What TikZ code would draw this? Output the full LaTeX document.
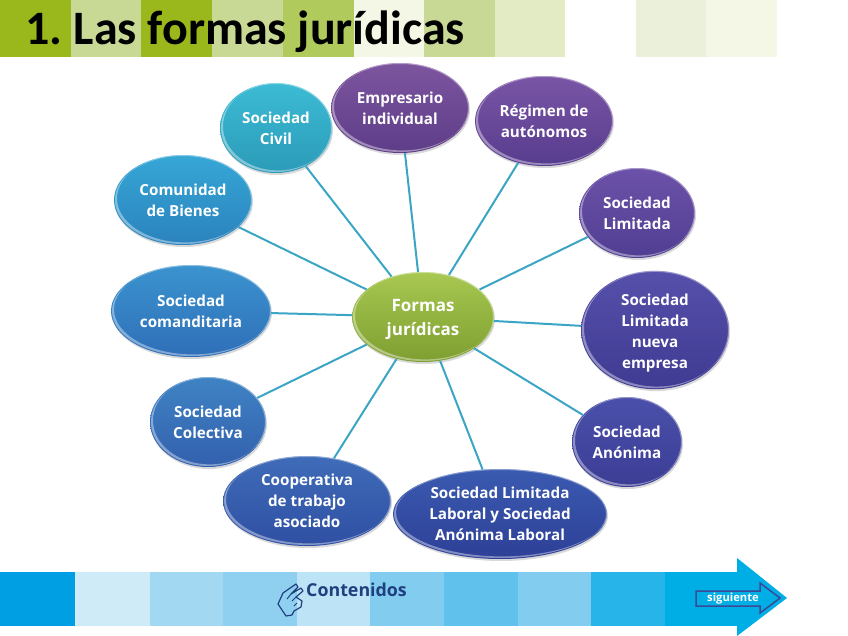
\documentclass[tikz,border=0pt]{standalone}
\usepackage{fontspec}
\setmainfont{Open Sans}
\newfontfamily\titlefont{Carlito}
\usetikzlibrary{shapes.geometric, shadows, calc}
\definecolor{linkcol}{RGB}{58,165,197}
\definecolor{headA}{RGB}{154,183,28}
\definecolor{headB}{RGB}{200,217,150}
\definecolor{headC}{RGB}{176,202,92}
\definecolor{headD}{RGB}{244,247,230}
\definecolor{headE}{RGB}{227,235,196}
\definecolor{headF}{RGB}{235,240,218}
\definecolor{bandA}{RGB}{0,159,227}
\definecolor{bandB}{RGB}{208,235,248}
\definecolor{bandC}{RGB}{163,216,243}
\definecolor{bandD}{RGB}{143,208,240}
\definecolor{bandE}{RGB}{189,227,246}
\definecolor{bandF}{RGB}{130,205,239}
\definecolor{bandG}{RGB}{95,193,236}
\definecolor{bandH}{RGB}{39,180,232}
\definecolor{bandI}{RGB}{0,174,230}
\definecolor{navycol}{RGB}{31,63,127}
\definecolor{borderD}{RGB}{59,74,150}
\definecolor{formsA}{HTML}{A8C852}
\definecolor{formsB}{HTML}{7E9E30}
\definecolor{ownerA}{HTML}{7D559F}
\definecolor{ownerB}{HTML}{5E3D88}
\definecolor{selfA}{HTML}{7A55A5}
\definecolor{selfB}{HTML}{573C8E}
\definecolor{limitedA}{HTML}{6C52A8}
\definecolor{limitedB}{HTML}{503E92}
\definecolor{newfirmA}{HTML}{5650AA}
\definecolor{newfirmB}{HTML}{3F3A92}
\definecolor{publicA}{HTML}{4A50AA}
\definecolor{publicB}{HTML}{3C3D95}
\definecolor{labourA}{HTML}{3A5BB0}
\definecolor{labourB}{HTML}{2E3F97}
\definecolor{coopA}{HTML}{3F6CB8}
\definecolor{coopB}{HTML}{2F4FA3}
\definecolor{collectiveA}{HTML}{3F83C4}
\definecolor{collectiveB}{HTML}{3360AD}
\definecolor{sleepingA}{HTML}{3B93CF}
\definecolor{sleepingB}{HTML}{2F6FB8}
\definecolor{goodsA}{HTML}{36A7D6}
\definecolor{goodsB}{HTML}{2B82BD}
\definecolor{civilA}{HTML}{3CBBD5}
\definecolor{civilB}{HTML}{2B9BB8}

\begin{document}
\begin{tikzpicture}[
	x=1pt,
	y=-1pt,
	formbox/.style={
		ellipse,
		inner sep=0pt,
		align=center,
		text=white,
		font=\fontsize{15.2}{21}\selectfont\bfseries,
		drop shadow={opacity=.3, shadow xshift=1pt, shadow yshift=-2pt},
		path picture={
			\fill[white, opacity=.4, even odd rule]
			let \p1=($(path picture bounding box.north east)-(path picture bounding box.center)$) in
			(path picture bounding box.center) ellipse [x radius=\x1-1pt, y radius=\y1-1pt]
			($(path picture bounding box.center)+(2pt,1.6pt)$) ellipse [x radius=\x1-1pt, y radius=\y1-1pt];
		}
	},
	every edge/.style={
		draw=linkcol,
		line width=2pt
	}
	]
	\useasboundingbox (0,0) rectangle (848,636);
	% Top strip
	\fill[headA] (0,0) rectangle (71,57);
	\fill[headB] (71,0) rectangle (141,57);
	\fill[headA] (141,0) rectangle (212,57);
	\fill[headB] (212,0) rectangle (283,57);
	\fill[headC] (283,0) rectangle (354,57);
	\fill[headD] (354,0) rectangle (424,57);
	\fill[headB] (424,0) rectangle (495,57);
	\fill[headE] (495,0) rectangle (565,57);
	\fill[headF] (636,0) rectangle (706,57);
	\fill[headD] (706,0) rectangle (777,57);
	\node[font=\titlefont\fontsize{48}{48}\selectfont\bfseries, anchor=west, inner sep=0pt] (title) at (25,32) {1.\kern-3pt{} Las formas jurídicas};
	% Bottom strip
	\fill[bandA] (0,572) rectangle (75,626);
	\fill[bandB] (75,572) rectangle (150,626);
	\fill[bandC] (150,572) rectangle (223,626);
	\fill[bandD] (223,572) rectangle (297,626);
	\fill[bandE] (297,572) rectangle (370,626);
	\fill[bandF] (370,572) rectangle (444,626);
	\fill[bandG] (444,572) rectangle (518,626);
	\fill[bandF] (518,572) rectangle (591,626);
	\fill[bandH] (591,572) rectangle (665,626);
	\fill[bandI] (665,572) rectangle (737,626);
	\fill[bandI] (737,558) -- (787,598) -- (737,636) -- cycle;
	\draw[borderD, fill=bandI, line width=1.5pt] (696,591) -- (760,591) -- (760,583) -- (780,598) -- (760,613) -- (760,606) -- (696,606) -- cycle;
	\node[text=white, font=\fontsize{11.2}{12}\selectfont\bfseries, inner sep=0pt] (next) at (733,599) {siguiente};
	\node[text=navycol, font=\fontsize{17.8}{20}\selectfont\bfseries, anchor=west, inner sep=0pt] (menu) at (306,590) {Contenidos};
	% Hand
	\draw[navycol, line width=1.2pt, line join=round] (286,616) -- (278,604) -- (283,593) -- (296,584) -- (298,587) -- (291,594) -- (301,588) -- (303,591) -- (296,597) -- (302,601) -- (301,607) -- (294,611) -- (292,615) -- cycle;
	\draw[navycol, line width=1pt] (291,594) -- (287,599) (296,597) -- (292,601) (297,603) -- (294,606);
	% Forms
	\node[formbox, minimum width=142pt, minimum height=90pt, top color=formsA, bottom color=formsB, font=\fontsize{17}{24}\selectfont\bfseries] (forms) at (423,317) {\rule{0pt}{18pt}Formas\\ jurídicas};
	\node[formbox, minimum width=138pt, minimum height=90pt, top color=ownerA, bottom color=ownerB] (owner) at (400,108) {Empresario\\ individual};
	\node[formbox, minimum width=138pt, minimum height=90pt, top color=selfA, bottom color=selfB] (self) at (544,121) {Régimen de\\ autónomos};
	\node[formbox, minimum width=112pt, minimum height=90pt, top color=civilA, bottom color=civilB] (civil) at (276,128) {Sociedad\\ Civil};
	\node[formbox, minimum width=138pt, minimum height=90pt, top color=goodsA, bottom color=goodsB] (goods) at (183,200) {Comunidad\\ de Bienes};
	\node[formbox, minimum width=116pt, minimum height=90pt, top color=limitedA, bottom color=limitedB] (limited) at (637,213) {Sociedad\\ Limitada};
	\node[formbox, minimum width=160pt, minimum height=92pt, top color=sleepingA, bottom color=sleepingB] (sleeping) at (191,311) {Sociedad\\ comanditaria};
	\node[formbox, minimum width=148pt, minimum height=114pt, top color=newfirmA, bottom color=newfirmB] (newfirm) at (655,330) {\rule{0pt}{17pt}Sociedad\\ Limitada\\ nueva\\ empresa};
	\node[formbox, minimum width=116pt, minimum height=90pt, top color=collectiveA, bottom color=collectiveB] (collective) at (208,422) {Sociedad\\ Colectiva};
	\node[formbox, minimum width=110pt, minimum height=90pt, top color=publicA, bottom color=publicB] (public) at (627,442) {Sociedad\\ Anónima};
	\node[formbox, minimum width=168pt, minimum height=90pt, top color=coopA, bottom color=coopB] (coop) at (307,501) {Cooperativa\\ de trabajo\\ asociado};
	\node[formbox, minimum width=214pt, minimum height=90pt, top color=labourA, bottom color=labourB] (labour) at (500,514) {Sociedad Limitada\\ Laboral y Sociedad\\ Anónima Laboral};
	% Links
	\path
	(forms) edge (owner)
	(forms) edge (self)
	(forms) edge (civil)
	(forms) edge (goods)
	(forms) edge (limited)
	(forms) edge (sleeping)
	(forms) edge (newfirm)
	(forms) edge (collective)
	(forms) edge (public)
	(forms) edge (coop)
	(forms) edge (labour);
\end{tikzpicture}
\end{document}
